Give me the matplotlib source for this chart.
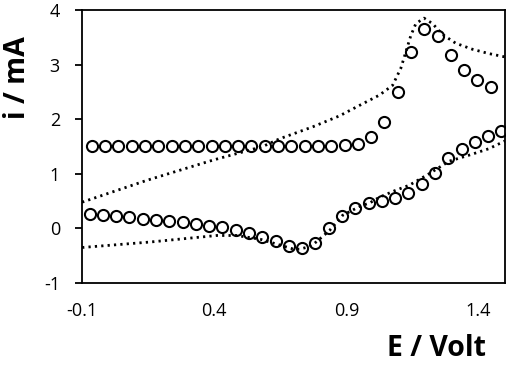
import matplotlib
matplotlib.use("Agg")
import matplotlib.pyplot as plt

plt.rcParams["font.family"] = ["Open Sans", "DejaVu Sans"]
plt.rcParams["axes.unicode_minus"] = False

# measured: forward (anodic) scan, circles
exp_fwd_E = [-0.063, -0.013, 0.037, 0.088, 0.138, 0.188, 0.239, 0.289, 0.339,
             0.390, 0.440, 0.490, 0.540, 0.591, 0.641, 0.691, 0.742, 0.792,
             0.842, 0.893, 0.943, 0.993, 1.043, 1.094, 1.144, 1.194, 1.245,
             1.295, 1.345, 1.396, 1.446]
exp_fwd_i = [1.50, 1.50, 1.50, 1.50, 1.50, 1.50, 1.50, 1.50, 1.50,
             1.50, 1.50, 1.50, 1.50, 1.50, 1.50, 1.50, 1.50, 1.50,
             1.51, 1.52, 1.55, 1.67, 1.95, 2.50, 3.23, 3.65, 3.52,
             3.17, 2.90, 2.72, 2.59]

# measured: reverse scan, circles
exp_rev_E = [-0.072, -0.022, 0.028, 0.079, 0.129, 0.179, 0.229, 0.280, 0.330,
             0.380, 0.431, 0.481, 0.531, 0.582, 0.632, 0.682, 0.732, 0.783,
             0.833, 0.883, 0.934, 0.984, 1.034, 1.085, 1.135, 1.185, 1.236,
             1.286, 1.336, 1.386, 1.437, 1.487]
exp_rev_i = [0.27, 0.24, 0.22, 0.20, 0.18, 0.16, 0.14, 0.115, 0.08,
             0.05, 0.02, -0.025, -0.085, -0.16, -0.24, -0.33, -0.36, -0.27,
             0.0, 0.22, 0.38, 0.47, 0.51, 0.56, 0.64, 0.81, 1.02,
             1.28, 1.46, 1.58, 1.69, 1.78]

# simulated curve, dotted
sim_fwd_E = [-0.1, 0.145, 0.395, 0.584, 0.647, 0.773, 0.874, 0.949, 1.025,
             1.075, 1.106, 1.125, 1.144, 1.163, 1.194, 1.226, 1.264, 1.314,
             1.377, 1.44, 1.5]
sim_fwd_i = [0.48, 0.88, 1.25, 1.50, 1.64, 1.86, 2.06, 2.25, 2.44,
             2.62, 2.93, 3.23, 3.53, 3.75, 3.85, 3.75, 3.55, 3.39,
             3.28, 3.20, 3.14]
sim_rev_E = [-0.1, 0.157, 0.41, 0.485, 0.575, 0.645, 0.70, 0.723, 0.748,
             0.773, 0.80, 0.836, 0.886, 0.95, 0.99, 1.025, 1.088, 1.138,
             1.213, 1.289, 1.364, 1.44, 1.5]
sim_rev_i = [-0.35, -0.25, -0.13, -0.13, -0.20, -0.30, -0.38, -0.38, -0.35,
             -0.30, -0.19, -0.04, 0.24, 0.40, 0.47, 0.57, 0.70, 0.79,
             1.00, 1.23, 1.34, 1.46, 1.60]

fig = plt.figure(figsize=(5.1, 3.68), dpi=100)
ax = fig.add_axes([0.161, 0.231, 0.829, 0.742])

for E, i in [(sim_fwd_E, sim_fwd_i), (sim_rev_E, sim_rev_i)]:
    ax.plot(E, i, color="black", lw=2.0, linestyle=(0, (0.8, 1.5)))
for E, i in [(exp_fwd_E, exp_fwd_i), (exp_rev_E, exp_rev_i)]:
    ax.plot(E, i, linestyle="none", marker="o", ms=8, mew=1.5,
            mfc="none", mec="black")

ax.set_xlim(-0.1, 1.5)
ax.set_ylim(-1, 4)
ax.set_xticks([-0.1, 0.4, 0.9, 1.4])
ax.set_xticklabels(["-0.1", "0.4", "0.9", "1.4"])
ax.set_yticks([-1, 0, 1, 2, 3, 4])
ax.tick_params(axis="x", length=0, pad=14, labelsize=13)
ax.tick_params(axis="y", length=5, width=1.3, pad=11, labelsize=13)
for s in ax.spines.values():
    s.set_linewidth(1.3)

fig.text(0.855, 0.052, "E / Volt", fontsize=20.5, fontweight="bold",
         ha="center", va="center")
fig.text(0.035, 0.788, "i / mA", fontsize=20.5, fontweight="bold",
         ha="center", va="center", rotation=90)

fig.savefig("out.png", dpi=100)
